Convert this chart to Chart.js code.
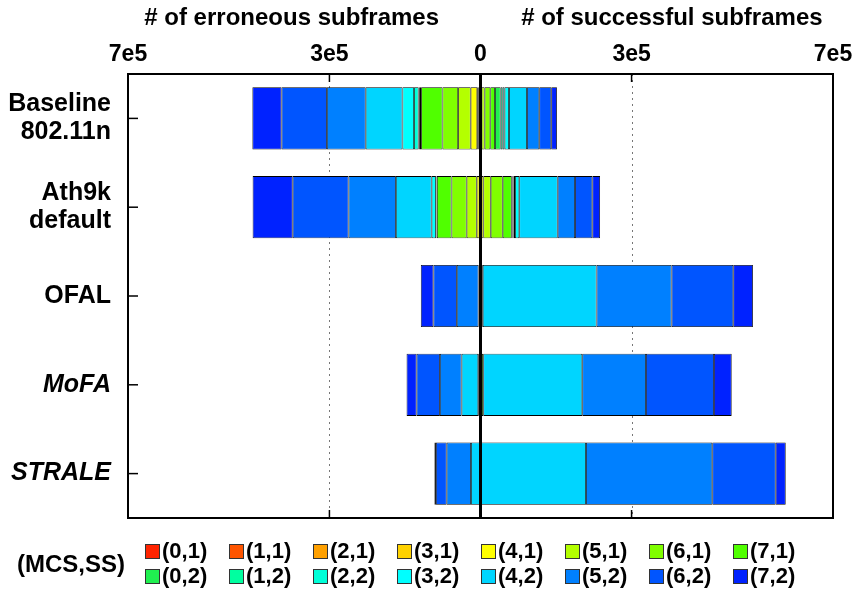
<!DOCTYPE html>
<html>
<head>
<meta charset="utf-8">
<script src="https://cdn.jsdelivr.net/npm/chart.js@4.4.0/dist/chart.umd.min.js"></script>
<style>
  html, body { margin: 0; padding: 0; background: #fff; }
  #wrap { position: relative; width: 862px; height: 592px; }
  #chart { position: absolute; left: 0; top: 0; }
  #legend { position: absolute; left: 0; top: 0; width: 862px; height: 592px; pointer-events: none;
            font-family: 'Liberation Sans', Arial, sans-serif; font-weight: bold; font-size: 22px; color: #000; }
  .leg-title { position: absolute; left: 17px; top: 550px; font-size: 24px; }
  .leg-item { position: absolute; height: 24px; line-height: 24px; white-space: nowrap; }
  .leg-box { display: inline-block; width: 13px; height: 13px; border: 1px solid #333; vertical-align: -1px; margin-right: 2px; }
</style>
</head>
<body>
<div id="wrap">
  <canvas id="chart" width="862" height="592"></canvas>
  <div id="legend"><div class="leg-title">(MCS,SS)</div></div>
</div>
<script>
// Categories (rows, top to bottom)
const categories = [['Baseline', '802.11n'], ['Ath9k', 'default'], 'OFAL', 'MoFA', 'STRALE'];
const italicRows = [false, false, false, true, true];

// (MCS,SS) series and their colours
const mcsLabels = ['(0,1)', '(1,1)', '(2,1)', '(3,1)', '(4,1)', '(5,1)', '(6,1)', '(7,1)',
                   '(0,2)', '(1,2)', '(2,2)', '(3,2)', '(4,2)', '(5,2)', '(6,2)', '(7,2)'];
const mcsColors = ['#ff2400', '#ff5500', '#ffa000', '#ffd200', '#ffff00', '#b4ff00', '#80ff00', '#50ff00',
                   '#20f050', '#00ffa0', '#00ffd8', '#00ffff', '#00d5ff', '#0080ff', '#0055ff', '#0022ff'];

// Erroneous subframes per (MCS,SS), one array per row
const errBaseline = [1000, 1000, 1500, 3000, 13000, 25000, 31000, 42500, 2500, 2500, 9000, 23000, 73000, 77000, 90000, 58000];
const errAth9k    = [300, 300, 400, 1000, 5500, 20000, 30000, 29000, 1000, 500, 500, 8500, 71000, 94000, 111000, 79500];
const errOFAL     = [0, 0, 0, 0, 0, 0, 0, 500, 0, 0, 0, 500, 3000, 43000, 46500, 25000];
const errMoFA     = [0, 0, 0, 0, 0, 0, 0, 1000, 500, 500, 500, 2000, 33000, 43100, 46300, 19900];
const errSTRALE   = [0, 0, 0, 0, 0, 0, 0, 0, 0, 0, 0, 0, 18900, 48300, 21300, 3000];

// Successful subframes per (MCS,SS), one array per row
const okBaseline = [300, 300, 300, 300, 1000, 6000, 11300, 9300, 11100, 4000, 4000, 8700, 35700, 24400, 23800, 11300];
const okAth9k    = [200, 200, 300, 500, 4400, 14700, 23800, 17900, 1500, 2000, 3000, 8500, 76300, 34400, 34400, 15300];
const okOFAL     = [0, 0, 0, 0, 0, 0, 500, 4000, 0, 0, 0, 0, 226000, 149000, 122500, 39000];
const okMoFA     = [0, 0, 0, 0, 0, 0, 500, 4500, 0, 0, 0, 500, 196600, 126500, 135000, 35200];
const okSTRALE   = [0, 0, 0, 0, 0, 0, 0, 0, 0, 0, 0, 0, 209500, 250800, 125900, 19900];

// Axis ticks
const xTicks = [-7e5, -3e5, 0, 3e5, 7e5];
const xGridLines = [-3e5, 3e5];

const FONT = "'Liberation Sans', Arial, sans-serif";

const errRows = [errBaseline, errAth9k, errOFAL, errMoFA, errSTRALE];
const okRows = [okBaseline, okAth9k, okOFAL, okMoFA, okSTRALE];

// Build datasets: negatives stack to the left, positives to the right
const datasets = [];
mcsLabels.forEach((label, i) => {
  datasets.push({
    label: label,
    data: errRows.map(r => -r[i]),
    backgroundColor: mcsColors[i],
  });
});
mcsLabels.forEach((label, i) => {
  datasets.push({
    label: label + ' ok',
    data: okRows.map(r => r[i]),
    backgroundColor: mcsColors[i],
  });
});

// Grid lines, zero line, frame, inner tick marks and the two headers
const decorPlugin = {
  id: 'decor',
  beforeDatasetsDraw(chart) {
    const { ctx, chartArea: a, scales: { x } } = chart;
    ctx.save();
    ctx.strokeStyle = '#777';
    ctx.lineWidth = 1;
    ctx.setLineDash([2, 4]);
    xGridLines.forEach(v => {
      const px = Math.round(x.getPixelForValue(v)) + 0.5;
      ctx.beginPath();
      ctx.moveTo(px, a.top);
      ctx.lineTo(px, a.bottom);
      ctx.stroke();
    });
    ctx.restore();
  },
  afterDatasetsDraw(chart) {
    const { ctx, chartArea: a, scales: { x, y } } = chart;
    ctx.save();
    ctx.strokeStyle = '#000';
    // zero line
    ctx.lineWidth = 3;
    const zx = x.getPixelForValue(0);
    ctx.beginPath();
    ctx.moveTo(zx, a.top);
    ctx.lineTo(zx, a.bottom);
    ctx.stroke();
    // frame
    ctx.lineWidth = 2;
    ctx.strokeRect(a.left, a.top, a.right - a.left, a.bottom - a.top);
    // tick marks inside the frame
    ctx.lineWidth = 1.5;
    categories.forEach((c, i) => {
      const py = y.getPixelForValue(i);
      ctx.beginPath();
      ctx.moveTo(a.left, py);
      ctx.lineTo(a.left + 10, py);
      ctx.stroke();
    });
    xGridLines.concat([0]).forEach(v => {
      const px = x.getPixelForValue(v);
      ctx.beginPath();
      ctx.moveTo(px, a.top);
      ctx.lineTo(px, a.top + 8);
      ctx.moveTo(px, a.bottom);
      ctx.lineTo(px, a.bottom - 8);
      ctx.stroke();
    });
    // headers
    ctx.fillStyle = '#000';
    ctx.font = 'bold 24px ' + FONT;
    ctx.textAlign = 'center';
    ctx.textBaseline = 'middle';
    ctx.fillText('# of erroneous subframes', x.getPixelForValue(-3.75e5), 18);
    ctx.fillText('# of successful subframes', x.getPixelForValue(3.8e5), 18);
    ctx.restore();
  }
};

const chart = new Chart(document.getElementById('chart').getContext('2d'), {
  type: 'bar',
  data: { labels: categories, datasets: datasets },
  options: {
    indexAxis: 'y',
    responsive: false,
    animation: false,
    layout: { padding: { top: 0, right: 29, bottom: 74, left: 0 } },
    datasets: {
      bar: {
        barPercentage: 0.7,
        categoryPercentage: 1.0,
        borderWidth: 0.8,
        borderColor: '#000',
        borderSkipped: false,
      }
    },
    plugins: {
      legend: { display: false },
      tooltip: { enabled: false },
    },
    scales: {
      x: {
        position: 'top',
        stacked: true,
        min: -7e5,
        max: 7e5,
        grid: { display: false, drawTicks: false },
        border: { display: false },
        afterBuildTicks(scale) {
          scale.ticks = xTicks.map(v => ({ value: v }));
        },
        afterFit(scale) { scale.height = 74; },
        ticks: {
          autoSkip: false,
          maxRotation: 0,
          padding: 6,
          color: '#000',
          font: { family: FONT, size: 23, weight: 'bold' },
          callback: v => v === 0 ? '0' : (Math.abs(v) / 1e5) + 'e5',
        }
      },
      y: {
        stacked: true,
        grid: { display: false, drawTicks: false },
        border: { display: false },
        afterFit(scale) { scale.width = 128; },
        ticks: {
          padding: 17,
          color: '#000',
          font: ctx => ({
            family: FONT, size: 25, weight: 'bold', lineHeight: 1.12,
            style: italicRows[ctx.index] ? 'italic' : 'normal'
          }),
        }
      }
    }
  },
  plugins: [decorPlugin]
});

// HTML legend: two rows of eight swatches
const legend = document.getElementById('legend');
mcsLabels.forEach((label, i) => {
  const item = document.createElement('div');
  item.className = 'leg-item';
  item.style.left = (145 + 84 * (i % 8)) + 'px';
  item.style.top = (539 + 25 * Math.floor(i / 8)) + 'px';
  item.innerHTML = '<span class="leg-box" style="background:' + mcsColors[i] + '"></span>' + label;
  legend.appendChild(item);
});
</script>
</body>
</html>
